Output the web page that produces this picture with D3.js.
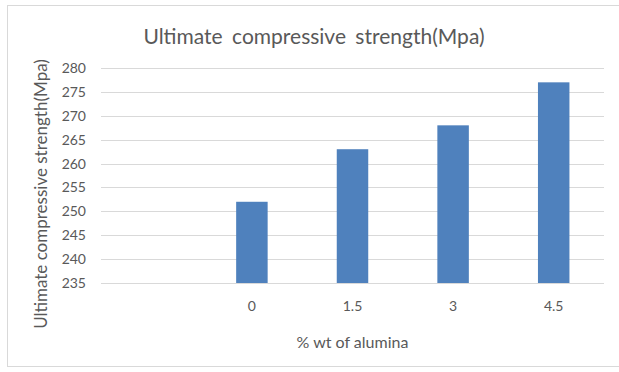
<!DOCTYPE html>
<html>
<head>
<meta charset="utf-8">
<script src="https://cdn.jsdelivr.net/npm/d3@7"></script>
<style>
  body { margin: 0; background: #fff; }
  text { font-family: Lato, "Open Sans", sans-serif; fill: #595959; }
</style>
</head>
<body>
<div id="chart"></div>
<script>
// data
var categories = ["", "0", "1.5", "3", "4.5"]
var strength = [null, 252, 263, 268, 277]
var yTicks = [235, 240, 245, 250, 255, 260, 265, 270, 275, 280]

const W = 619, H = 372
const margin = {top: 68, right: 15, bottom: 89, left: 101},
    width = W - margin.left - margin.right,
    height = H - margin.top - margin.bottom

var svg = d3.select("#chart")
  .append("svg")
  .attr("width", W)
  .attr("height", H)

// outer frame
svg.append("rect")
  .attr("x", 7.5).attr("y", 5.5)
  .attr("width", W).attr("height", 361)
  .attr("fill", "none")
  .attr("stroke", "#d9d9d9")

svg.append("text")
  .attr("x", 314).attr("y", 44)
  .attr("text-anchor", "middle")
  .style("font-size", "21px")
  .style("word-spacing", "4px")
  .text("Ultimate compressive strength(Mpa)")

var g = svg.append("g")
  .attr("transform", "translate(" + margin.left + "," + margin.top + ")")

var x = d3.scaleBand()
  .domain(categories)
  .range([0, width])

var y = d3.scaleLinear()
  .domain([235, 280])
  .range([height, 0])

// gridlines
g.append("g")
  .selectAll("line")
  .data(yTicks)
  .enter()
  .append("line")
  .attr("x1", 0).attr("x2", width)
  .attr("y1", d => Math.round(y(d)) + 0.5)
  .attr("y2", d => Math.round(y(d)) + 0.5)
  .attr("stroke", "#d9d9d9")

// y axis
var yAxis = g.append("g")
  .attr("transform", "translate(-15,0)")
  .call(d3.axisLeft(y).tickValues(yTicks).tickSize(0).tickPadding(0))
yAxis.select(".domain").remove()
yAxis.selectAll("text").style("font-size", "14px").attr("fill", "#595959")

// x axis
var xAxis = g.append("g")
  .attr("transform", "translate(0," + (height + 18) + ")")
  .call(d3.axisBottom(x).tickSize(0).tickPadding(0))
xAxis.select(".domain").remove()
xAxis.selectAll("text").style("font-size", "14px").attr("fill", "#595959")

// bars
var barW = x.bandwidth() * 0.313
g.append("g")
  .selectAll("rect")
  .data(categories.map((c, i) => ({cat: c, v: strength[i]})).filter(d => d.v != null))
  .enter()
  .append("rect")
  .attr("x", d => x(d.cat) + (x.bandwidth() - barW) / 2)
  .attr("y", d => y(d.v))
  .attr("width", barW)
  .attr("height", d => height - y(d.v))
  .attr("fill", "#4f81bd")

// axis titles
svg.append("text")
  .attr("x", margin.left + width / 2).attr("y", 348)
  .attr("text-anchor", "middle")
  .style("font-size", "16px")
  .text("% wt of alumina")

svg.append("text")
  .attr("transform", "translate(47,194) rotate(-90)")
  .attr("text-anchor", "middle")
  .style("font-size", "17px")
  .text("Ultimate compressive strength(Mpa)")
</script>
</body>
</html>
